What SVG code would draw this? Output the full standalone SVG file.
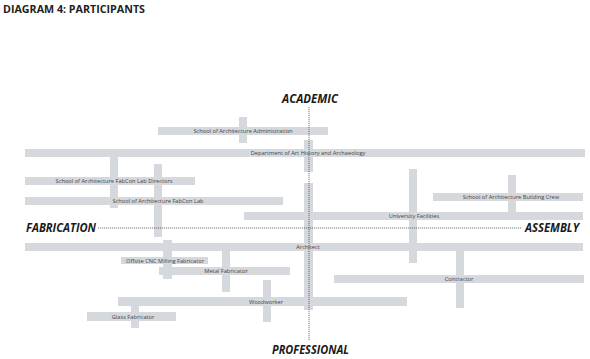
<svg xmlns="http://www.w3.org/2000/svg" width="590" height="359" viewBox="0 0 590 359">
<style>
.bar{fill:#d5d8dc}
.lbl{font-family:"Open Sans","Liberation Sans",sans-serif;font-size:5.7px;fill:#444;text-anchor:middle}
.axis{font-family:"Open Sans","Liberation Sans",sans-serif;font-size:12px;font-weight:bold;font-style:italic;fill:#1a1a1a}
.title{font-family:"Open Sans","Liberation Sans",sans-serif;font-size:11px;font-weight:bold;fill:#222}
.dash{stroke:#444;stroke-width:0.7;stroke-dasharray:1.2 0.8;fill:none}
</style>
<rect width="590" height="359" fill="#fff"/>
<text class="title" x="3" y="12.5" textLength="142" lengthAdjust="spacingAndGlyphs">DIAGRAM 4: PARTICIPANTS</text>

<g id="fabconlab">
<rect class="bar" x="25" y="197" width="258" height="8"/>
<rect class="bar" x="154" y="164" width="8" height="73"/>
<text class="lbl" x="158" y="203">School of Architecture FabCon Lab</text>
</g>
<g id="admin">
<rect class="bar" x="158" y="127" width="170" height="8"/>
<rect class="bar" x="239" y="117" width="8" height="26"/>
<text class="lbl" x="243" y="133">School of Architecture Administration</text>
</g>
<g id="dept">
<rect class="bar" x="25" y="149" width="560" height="8"/>
<rect class="bar" x="304" y="140" width="9" height="32"/>
<text class="lbl" x="308" y="155">Department of Art History and Archaeology</text>
</g>
<g id="directors">
<path class="bar" d="M110 149H118V197H110Z M110 205H118V208H110Z"/>
<rect class="bar" x="25" y="177" width="170" height="8"/>
<text class="lbl" x="114" y="183">School of Architecture FabCon Lab Directors</text>
</g>
<g id="buildingcrew">
<rect class="bar" x="433" y="193" width="150" height="8"/>
<rect class="bar" x="508" y="175" width="8" height="38"/>
<text class="lbl" x="511" y="199">School of Architecture Building Crew</text>
</g>
<g id="facilities">
<rect class="bar" x="244" y="212" width="339" height="8"/>
<rect class="bar" x="409" y="169" width="8" height="94"/>
<text class="lbl" x="414" y="218">University Facilities</text>
</g>
<g id="architect">
<rect class="bar" x="25" y="243" width="558" height="8"/>
<rect class="bar" x="304" y="183" width="9" height="127"/>
<text class="lbl" x="308" y="249">Architect</text>
</g>
<g id="cnc">
<rect class="bar" x="121" y="257" width="87" height="7"/>
<rect class="bar" x="163" y="240" width="9" height="39"/>
<text class="lbl" x="165" y="262.5">Offsite CNC Milling Fabricator</text>
</g>
<g id="metal">
<rect class="bar" x="159" y="267" width="131" height="8"/>
<rect class="bar" x="222" y="248" width="8" height="44"/>
<text class="lbl" x="226" y="273">Metal Fabricator</text>
</g>
<g id="contractor">
<rect class="bar" x="334" y="275" width="250" height="8"/>
<rect class="bar" x="456" y="250" width="8" height="58"/>
<text class="lbl" x="459" y="281">Contractor</text>
</g>
<g id="woodworker">
<rect class="bar" x="118" y="297" width="289" height="9"/>
<rect class="bar" x="263" y="280" width="8" height="42"/>
<text class="lbl" x="266" y="303.5">Woodworker</text>
</g>
<g id="glass">
<rect class="bar" x="87" y="312" width="89" height="9"/>
<rect class="bar" x="131" y="305" width="8" height="23"/>
<text class="lbl" x="133" y="318.5">Glass Fabricator</text>
</g>

<g id="connectors">
<line class="dash" x1="309" y1="107" x2="309" y2="341"/>
<line class="dash" x1="98" y1="228" x2="522" y2="228"/>
</g>

<g id="axes">
<text class="axis" x="282" y="102.5" textLength="56" lengthAdjust="spacingAndGlyphs">ACADEMIC</text>
<text class="axis" x="26" y="232" textLength="70" lengthAdjust="spacingAndGlyphs">FABRICATION</text>
<text class="axis" x="525" y="232" textLength="54" lengthAdjust="spacingAndGlyphs">ASSEMBLY</text>
<text class="axis" x="272" y="354" textLength="77" lengthAdjust="spacingAndGlyphs">PROFESSIONAL</text>
</g>
</svg>
